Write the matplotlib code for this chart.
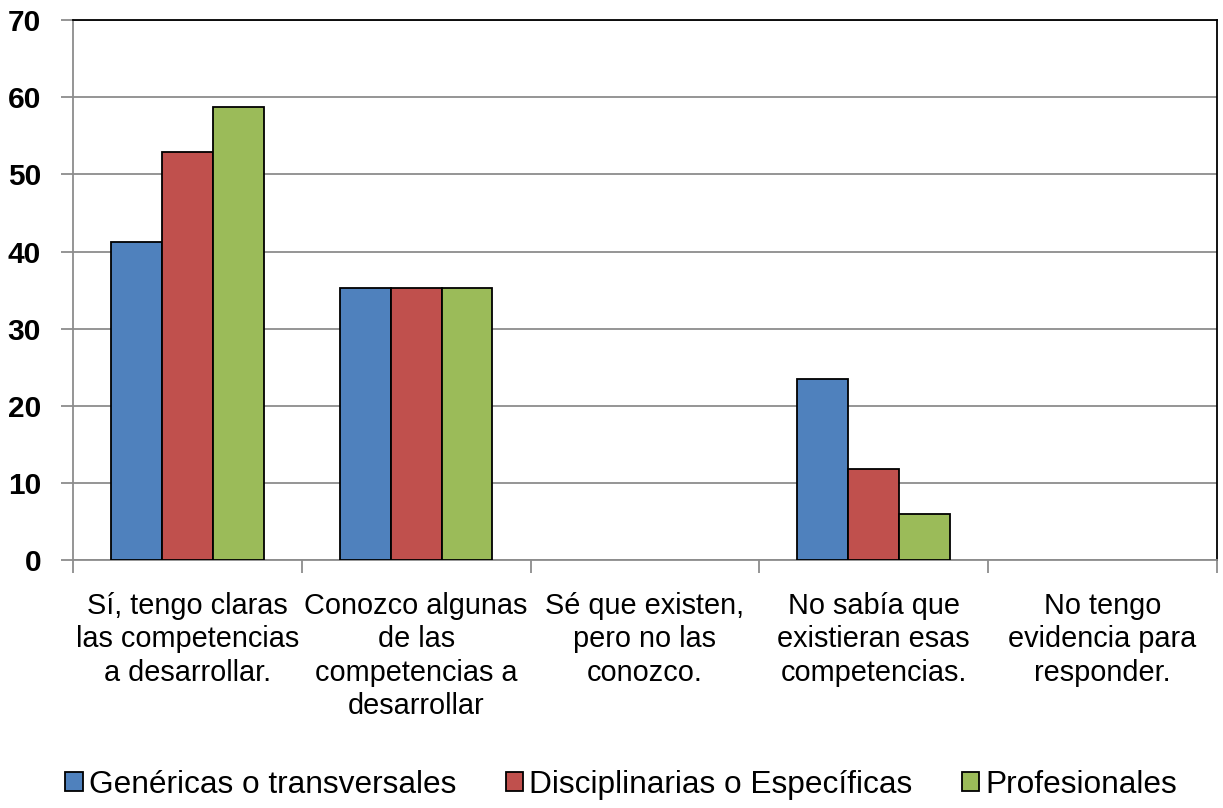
import numpy as np
import matplotlib.pyplot as plt
from matplotlib.patches import Patch

plt.rcParams['font.family'] = ['Liberation Sans', 'DejaVu Sans']

categories = [
    'Sí, tengo claras\nlas competencias\na desarrollar.',
    'Conozco algunas\nde las\ncompetencias a\ndesarrollar',
    'Sé que existen,\npero no las\nconozco.',
    'No sabía que\nexistieran esas\ncompetencias.',
    'No tengo\nevidencia para\nresponder.',
]
series_names = ['Genéricas o transversales', 'Disciplinarias o Específicas', 'Profesionales']
genericas = [41.2, 35.3, 0, 23.5, 0]
disciplinarias = [52.9, 35.3, 0, 11.8, 0]
profesionales = [58.8, 35.3, 0, 5.9, 0]
colors = ['#4F81BD', '#C0504D', '#9BBB59']

fig = plt.figure(figsize=(12.23, 8.08), dpi=100)
ax = fig.add_axes([0.0597, 0.307, 0.9353, 0.668])

x = np.arange(len(categories))
width = 1 / 4.5
for i, (vals, c) in enumerate(zip([genericas, disciplinarias, profesionales], colors)):
    # zero-height bars get no outline, like the original
    lw = [1.3 if v > 0 else 0 for v in vals]
    ax.bar(x + (i - 1) * width, vals, width, color=c, edgecolor='black', linewidth=lw, zorder=3)

ax.set_xlim(-0.5, len(categories) - 0.5)
ax.set_ylim(0, 70)
ax.set_yticks(range(0, 71, 10))
ax.yaxis.grid(True, color='#8c8c8c', linewidth=1.3, zorder=0)
for lab in ax.get_yticklabels():
    lab.set_fontweight('bold')
ax.tick_params(axis='y', labelsize=21.5, length=9, color='#8c8c8c', width=1.3, pad=14)

ax.set_xticks(np.arange(-0.5, len(categories), 1))
ax.set_xticklabels([])
ax.set_xticks(x, minor=True)
ax.set_xticklabels(categories, minor=True, fontsize=20.8, linespacing=1.25)
ax.tick_params(axis='x', which='major', length=9, color='#8c8c8c', width=1.3)
ax.tick_params(axis='x', which='minor', length=0, pad=23)

for side in ['left', 'bottom']:
    ax.spines[side].set_color('#8c8c8c')
    ax.spines[side].set_linewidth(1.3)
for side in ['top', 'right']:
    ax.spines[side].set_color('black')
    ax.spines[side].set_linewidth(1.3)

handles = [Patch(facecolor=c, edgecolor='black', linewidth=1.3) for c in colors]
fig.legend(handles, series_names, loc='center', bbox_to_anchor=(0.508, 0.029), ncol=3,
           frameon=False, fontsize=22.8, handlelength=0.55, handleheight=0.55,
           handletextpad=0.2, columnspacing=1.55, borderpad=0, borderaxespad=0)

fig.savefig('out.png', dpi=100)
